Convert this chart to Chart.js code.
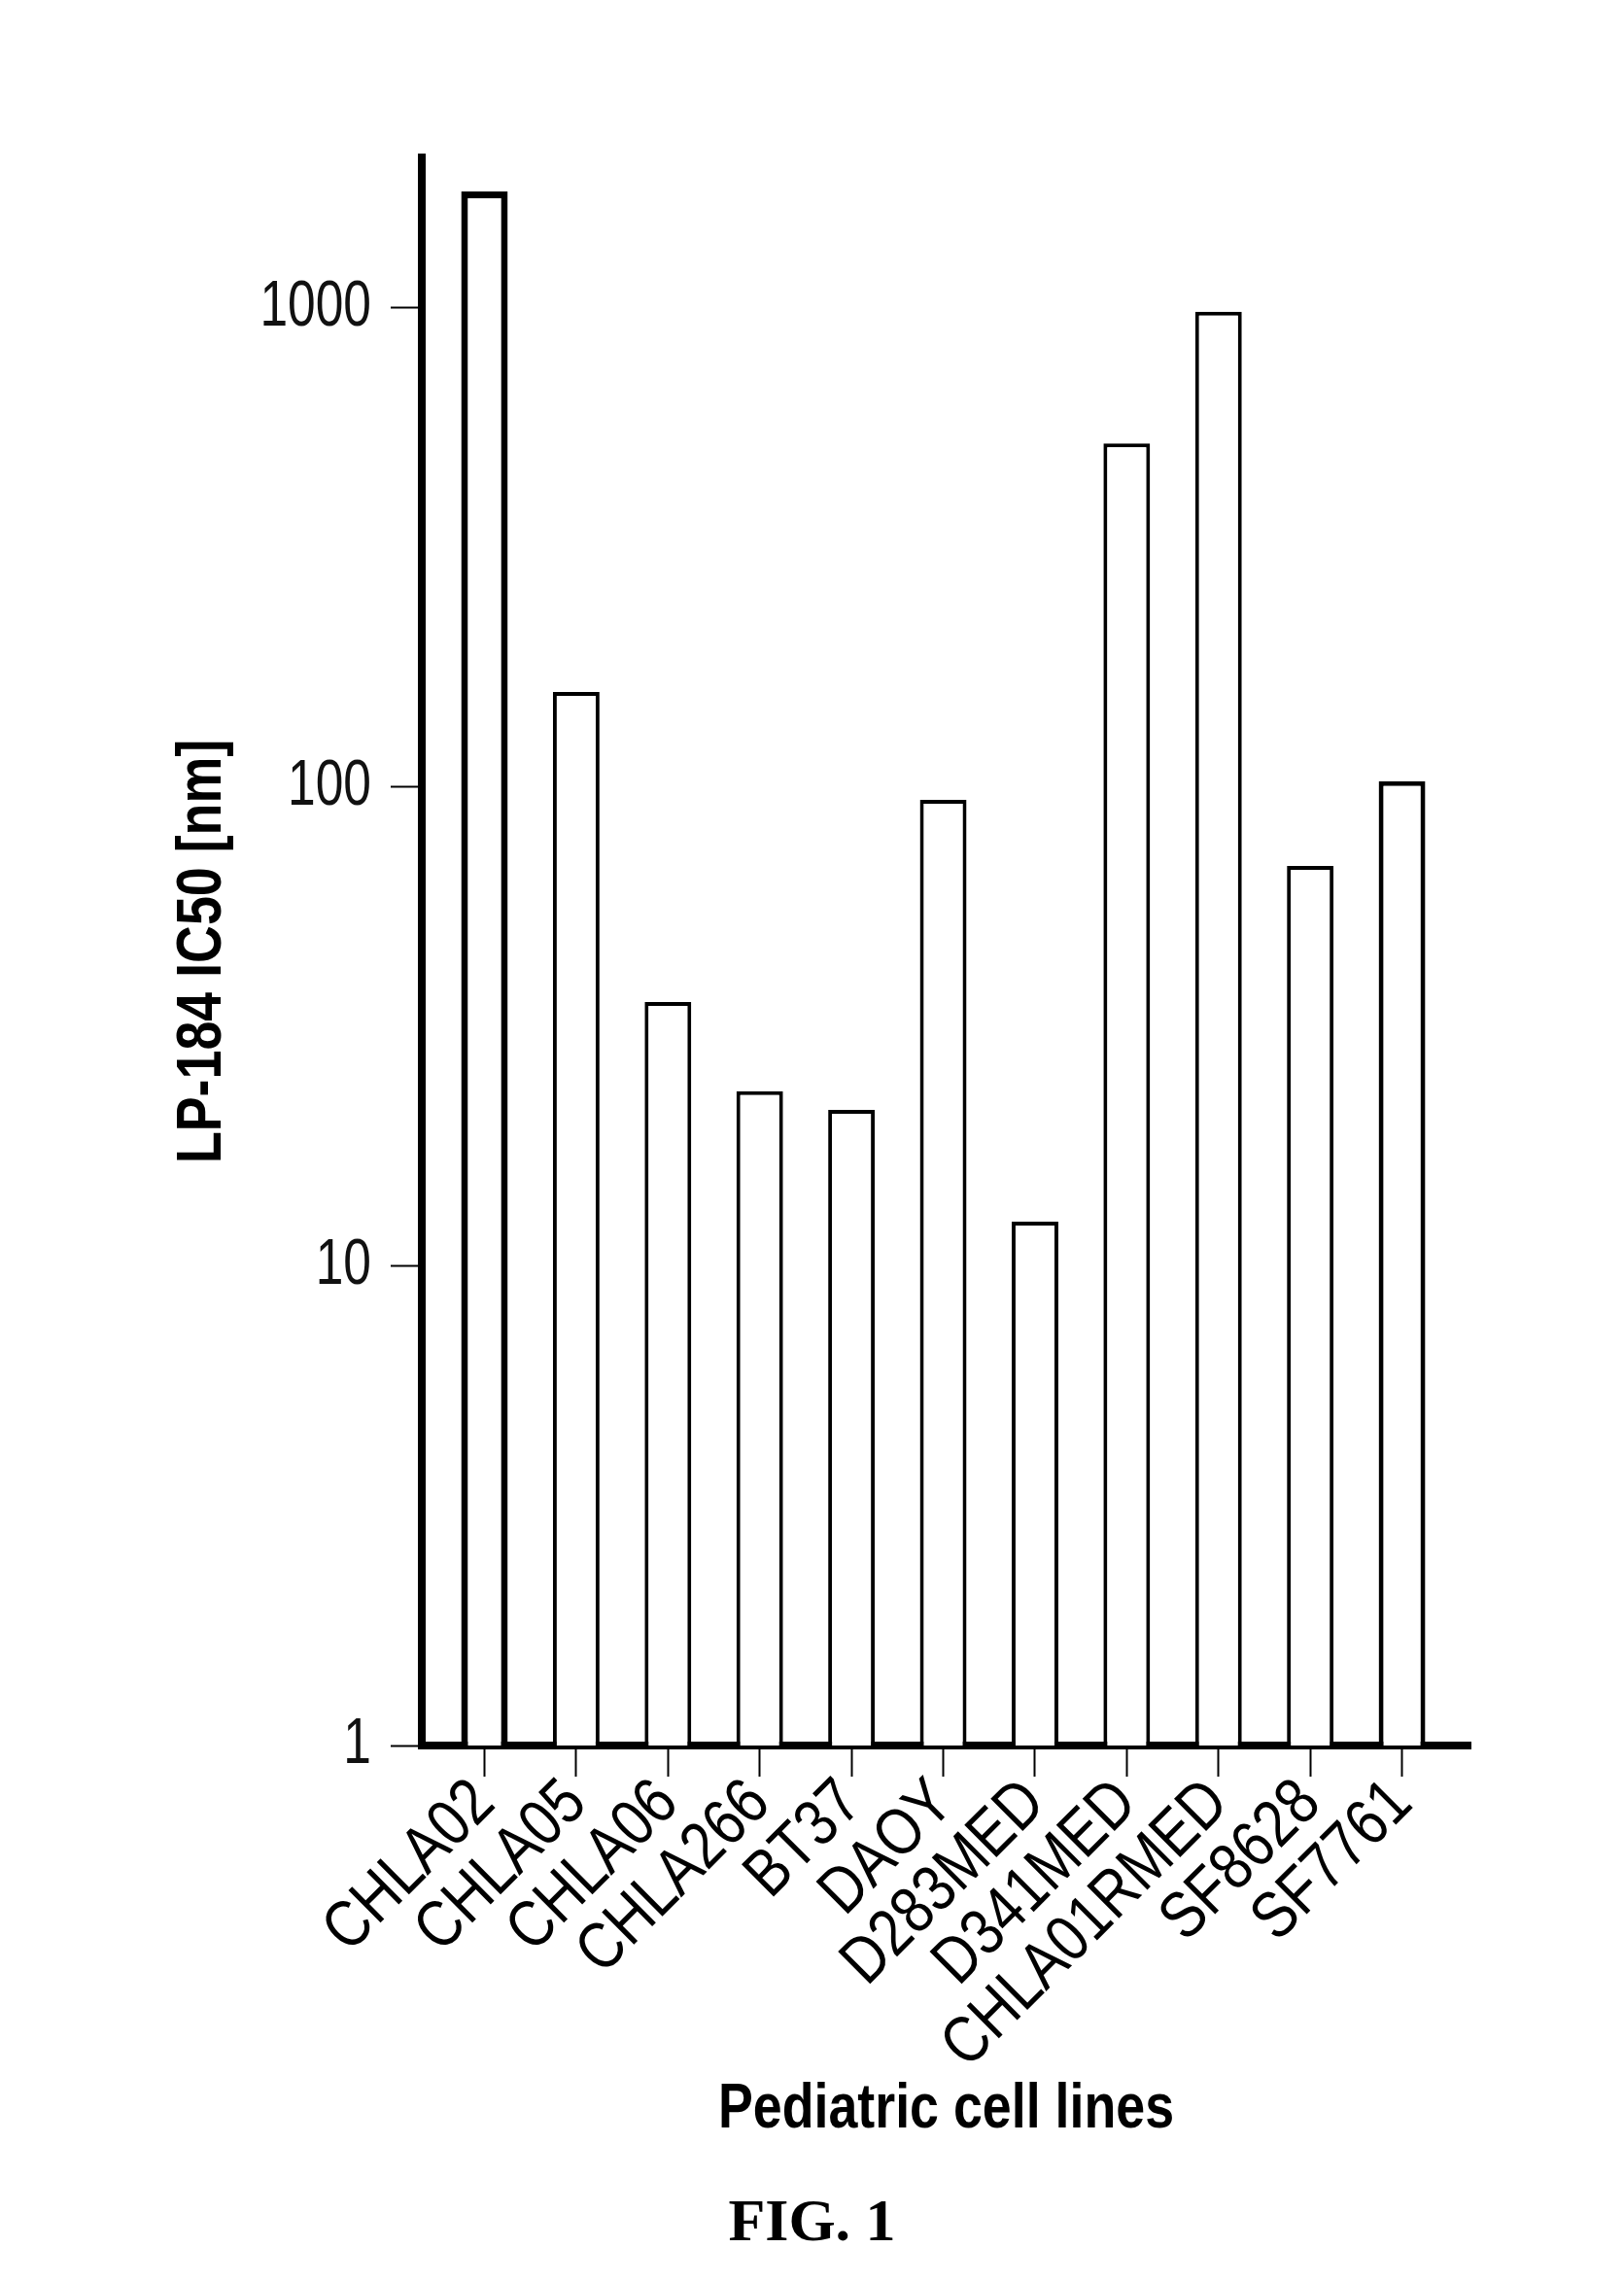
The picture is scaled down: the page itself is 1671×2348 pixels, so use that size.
<!DOCTYPE html>
<html>
<head>
<meta charset="utf-8">
<script src="https://cdn.jsdelivr.net/npm/chart.js@4/dist/chart.umd.min.js"></script>
<style>
  html, body { margin: 0; padding: 0; background: #fff; }
  canvas { display: block; }
</style>
</head>
<body>
<canvas id="grafica" width="1671" height="2348"></canvas>
<script>
// Lineas celulares (eje X) y valores IC50
const cellLines = ["CHLA02", "CHLA05", "CHLA06", "CHLA266", "BT37", "DAOY", "D283MED", "D341MED", "CHLA01RMED", "SF8628", "SF7761"];
const ic50 = [1751, 158, 35.6, 23.2, 21.2, 94.1, 12.4, 522, 982, 68.5, 103];
// Marcas del eje Y (logaritmico)
const yTicks = [1, 10, 100, 1000];
const yMax = 2062;

const sans = "'Liberation Sans', Arial, sans-serif";

// El original usa una letra estrecha (tipo Arial Narrow): se comprime el texto
// horizontalmente con el maxWidth de fillText
const condensar = {
  id: 'condensar',
  beforeDraw(chart) {
    const ctx = chart.ctx;
    if (ctx._condensado) return;
    const original = ctx.fillText;
    ctx.fillText = function(text, x, y, maxWidth) {
      const f = this.font;
      if (f.indexOf('Liberation Sans') >= 0) {
        const factor = (/bold|700/.test(f) || f.indexOf('68px') >= 0) ? 0.84 : 0.78;
        let w = this.measureText(text).width * factor;
        if (maxWidth !== undefined) w = Math.min(w, maxWidth);
        return original.call(this, text, x, y, w);
      }
      return maxWidth === undefined ? original.call(this, text, x, y) : original.call(this, text, x, y, maxWidth);
    };
    ctx._condensado = true;
  }
};

document.addEventListener('DOMContentLoaded', function() {
  const $grafica = document.querySelector("#grafica");

  new Chart($grafica, {
    type: 'bar',
    data: {
      datasets: [{
        data: cellLines.map((c, i) => ({ x: i, y: ic50[i] })),
        backgroundColor: '#fff',
        borderColor: '#000',
        borderWidth: ctx => ctx.dataIndex === 0 ? 7 : (ctx.dataIndex === cellLines.length - 1 ? 5 : 4),
        borderSkipped: 'start',
        barPercentage: 0.508,
        categoryPercentage: 1
      }]
    },
    plugins: [condensar],
    options: {
      responsive: false,
      animation: false,
      layout: { padding: { top: 162, right: 0, left: 0, bottom: 0 } },
      plugins: {
        legend: { display: false },
        tooltip: { enabled: false },
        title: {
          display: true,
          position: 'bottom',
          text: 'FIG. 1',
          color: '#000',
          font: { family: "'Liberation Serif', 'Times New Roman', serif", size: 62, weight: 'bold', lineHeight: 1 },
          padding: { top: 0, bottom: 28 }
        }
      },
      scales: {
        x: {
          type: 'linear',
          min: -0.683,
          max: 10.746,
          offset: false,
          grid: { offset: false, drawOnChartArea: false, drawTicks: true, tickLength: 32, tickWidth: 2, tickColor: '#000' },
          border: { display: true, width: 8, color: '#000' },
          afterBuildTicks: scale => { scale.ticks = cellLines.map((c, i) => ({ value: i })); },
          afterFit: scale => { scale.height = 462; },
          ticks: {
            autoSkip: false,
            minRotation: 45,
            maxRotation: 45,
            padding: -12,
            color: '#000',
            font: { family: sans, size: 68 },
            callback: v => cellLines[v]
          },
          title: {
            display: true,
            text: 'Pediatric cell lines',
            color: '#000',
            font: { family: sans, size: 64, weight: 'bold', lineHeight: 1 },
            padding: { top: 0, bottom: 55 }
          }
        },
        y: {
          type: 'logarithmic',
          min: 1,
          max: yMax,
          grid: { drawOnChartArea: false, drawTicks: true, tickLength: 32, tickWidth: 2, tickColor: '#000' },
          border: { display: true, width: 8, color: '#000' },
          afterBuildTicks: scale => { scale.ticks = yTicks.map(v => ({ value: v })); },
          afterFit: scale => { scale.width = 434; },
          ticks: {
            padding: 20,
            color: '#111',
            font: { family: sans, size: 66 },
            callback: v => String(v)
          },
          title: {
            display: true,
            text: 'LP-184 IC50 [nm]',
            color: '#000',
            font: { family: sans, size: 64, weight: 'bold', lineHeight: 1 },
            padding: { top: 177, bottom: 0 }
          }
        },
        // eje vacio que reserva el margen derecho
        margen: {
          type: 'linear',
          position: 'right',
          display: true,
          grid: { display: false },
          border: { display: false },
          ticks: { display: false },
          afterFit: scale => { scale.width = 158; }
        }
      }
    }
  });
});
</script>
</body>
</html>
